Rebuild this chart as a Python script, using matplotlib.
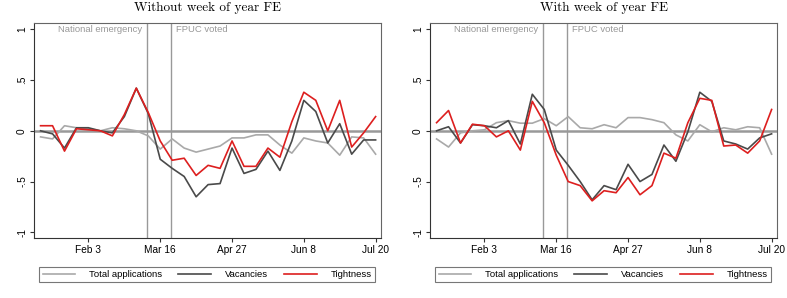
import numpy as np
import matplotlib.pyplot as plt

# weekly observations, Jan 6 .. Jul 20 (week index 0..28)
week = np.arange(29)
tick_pos = [4, 10, 16, 22, 28]
tick_labels = ['Feb 3', 'Mar 16', 'Apr 27', 'Jun 8', 'Jul 20']
yticks = [-1, -0.5, 0, 0.5, 1]
ytick_labels = ['-1', '-.5', '0', '.5', '1']
events = [8.9, 10.9]
event_labels = ['National emergency', 'FPUC voted']

# Without week of year FE
apps_a = [-0.06, -0.08, 0.05, 0.03, 0.02, 0.0, 0.03, 0.02, 0.0, -0.05,
          -0.18, -0.08, -0.17, -0.21, -0.18, -0.15, -0.07, -0.07, -0.04, -0.04,
          -0.14, -0.22, -0.07, -0.10, -0.12, -0.24, -0.06, -0.07, -0.23]
vac_a = [0.0, -0.03, -0.17, 0.03, 0.03, 0.0, -0.02, 0.14, 0.42, 0.17,
         -0.28, -0.37, -0.45, -0.65, -0.53, -0.52, -0.17, -0.42, -0.38, -0.20,
         -0.39, -0.10, 0.30, 0.19, -0.12, 0.07, -0.23, -0.09, -0.09]
tight_a = [0.05, 0.05, -0.20, 0.02, 0.01, 0.0, -0.05, 0.16, 0.42, 0.18,
           -0.10, -0.29, -0.27, -0.44, -0.34, -0.37, -0.10, -0.35, -0.35, -0.17,
           -0.26, 0.09, 0.38, 0.30, 0.0, 0.30, -0.16, -0.02, 0.14]

# With week of year FE
apps_b = [-0.08, -0.16, -0.02, 0.0, 0.01, 0.08, 0.10, 0.075, 0.075, 0.12,
          0.05, 0.14, 0.03, 0.02, 0.06, 0.03, 0.13, 0.13, 0.11, 0.08,
          -0.04, -0.10, 0.06, -0.01, 0.03, 0.01, 0.04, 0.03, -0.23]
vac_b = [0.0, 0.04, -0.12, 0.06, 0.05, 0.03, 0.10, -0.13, 0.36, 0.21,
         -0.19, -0.34, -0.50, -0.68, -0.54, -0.58, -0.33, -0.50, -0.43, -0.14,
         -0.30, -0.01, 0.38, 0.29, -0.10, -0.13, -0.18, -0.07, -0.03]
tight_b = [0.08, 0.20, -0.12, 0.065, 0.05, -0.06, 0.0, -0.19, 0.29, 0.08,
           -0.24, -0.50, -0.54, -0.69, -0.59, -0.61, -0.46, -0.63, -0.54, -0.22,
           -0.27, 0.08, 0.32, 0.30, -0.15, -0.14, -0.22, -0.10, 0.21]

titles = ['Without week of year FE', 'With week of year FE']
panels = [(apps_a, vac_a, tight_a), (apps_b, vac_b, tight_b)]

plt.rcParams['font.family'] = ['Liberation Sans', 'DejaVu Sans']

fig = plt.figure(figsize=(7.87, 2.98), dpi=100)
lefts = [34 / 787, 430 / 787]

for k in range(2):
    ax = fig.add_axes([lefts[k], 60 / 298, 347 / 787, 215 / 298])
    apps, vac, tight = panels[k]

    ax.axhline(0, color='#999999', lw=1.8, zorder=1)
    for e in events:
        ax.axvline(e, color='#999999', lw=1.0, zorder=1)
    ax.text(events[0] - 0.4, 1.0, event_labels[0], ha='right', va='center',
            fontsize=6.8, color='#999999')
    ax.text(events[1] + 0.45, 1.0, event_labels[1], ha='left', va='center',
            fontsize=6.8, color='#999999')

    ax.plot(week, apps, color='#a9a9a9', lw=1.2, label='Total applications', zorder=2)
    ax.plot(week, vac, color='#4a4a4a', lw=1.2, label='Vacancies', zorder=3)
    ax.plot(week, tight, color='#dd1f1f', lw=1.2, label='Tightness', zorder=4)

    ax.set_xlim(-0.55, 28.45)
    ax.set_ylim(-1.056, 1.062)
    ax.set_xticks(tick_pos)
    ax.set_xticklabels(tick_labels, fontsize=7.3)
    ax.set_yticks(yticks)
    ax.set_yticklabels(ytick_labels, fontsize=7.3, rotation=90, va='center')
    ax.tick_params(length=3, width=0.8, color='#333333', pad=2)
    for s in ax.spines.values():
        s.set_color('#666666')
        s.set_linewidth(0.8)
    ax.spines['left'].set_color('#333333')
    ax.spines['bottom'].set_color('#333333')

    ax.set_title(titles[k], family='cmr10', fontsize=9.5, pad=8.5)

    leg = ax.legend(loc='center', bbox_to_anchor=(0.015, -0.214, 0.968, 0.088),
                    mode='expand', ncol=3, fontsize=6.8, handlelength=3.4,
                    frameon=True, fancybox=False, borderaxespad=0,
                    borderpad=0.35, handletextpad=1.5)
    leg.get_frame().set_edgecolor('#555555')
    leg.get_frame().set_linewidth(0.8)

fig.savefig('out.png', dpi=100)
